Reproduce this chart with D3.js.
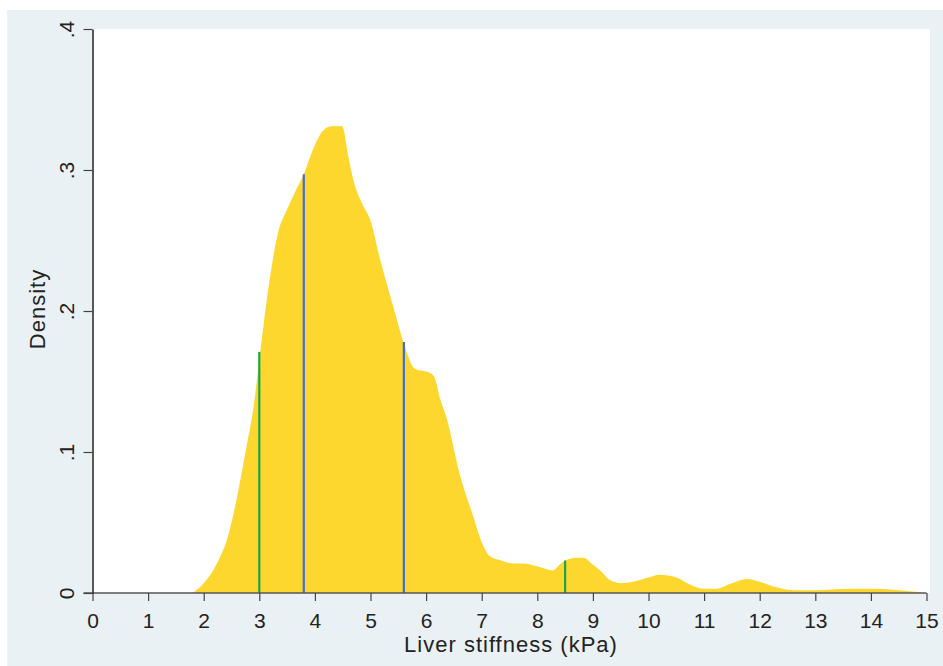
<!DOCTYPE html>
<html><head><meta charset="utf-8">
<script src="https://cdn.jsdelivr.net/npm/d3@7"></script>
<style>html,body{margin:0;padding:0;background:#fff;}svg{display:block;}</style>
</head><body>
<svg id="chart" width="943" height="666"></svg>
<script>
// Kernel density estimate of liver stiffness
const densX = [1.8,1.9,2.0,2.17,2.3,2.42,2.6,2.78,2.89,3.0,3.16,3.34,3.5,3.65,3.8,3.95,4.05,4.15,4.3,4.49,4.6,4.69,4.85,5.0,5.17,5.41,5.6,5.8,6.07,6.15,6.25,6.37,6.6,6.85,7.0,7.15,7.35,7.56,7.74,8.0,8.28,8.4,8.5,8.71,8.83,9.0,9.13,9.31,9.5,9.73,10.0,10.2,10.5,10.8,11.0,11.2,11.5,11.77,12.0,12.3,12.6,13.0,13.6,14.1,14.5,14.9];
const densY = [0,0.003,0.007,0.016,0.026,0.038,0.068,0.106,0.13,0.165,0.215,0.256,0.272,0.285,0.297,0.313,0.322,0.328,0.331,0.331,0.31,0.293,0.276,0.264,0.237,0.203,0.177,0.159,0.156,0.153,0.138,0.124,0.085,0.054,0.036,0.026,0.023,0.021,0.021,0.019,0.016,0.02,0.023,0.025,0.025,0.02,0.016,0.009,0.007,0.008,0.011,0.013,0.011,0.005,0.003,0.003,0.007,0.01,0.008,0.004,0.002,0.002,0.003,0.003,0.002,0.0005];
// Reference lines: percentiles (green: outer, blue: inner)
const greenX = [3.0, 8.5];
const greenTop = [0.171, 0.023];
const blueX = [3.8, 5.6];
const blueTop = [0.297, 0.178];
const xTicks = d3.range(0, 16);
const yTicks = [0, 0.1, 0.2, 0.3, 0.4];
const yTickLabels = ["0", ".1", ".2", ".3", ".4"];

const svg = d3.select("#chart");
const W = 943, H = 666;
const mLeft = 92.5, mRight = 926.5, mTop = 29, mBottom = 593;
const FONT = "Liberation Sans, Arial, sans-serif";

// outer panel
svg.append("rect").attr("x", 7).attr("y", 10).attr("width", W - 7).attr("height", H - 10).attr("fill", "#eaf1f5");
// plot region
svg.append("rect").attr("x", mLeft).attr("y", mTop).attr("width", 930 - mLeft).attr("height", mBottom - mTop).attr("fill", "#ffffff");

const x = d3.scaleLinear().domain([0, 15]).range([mLeft, mRight]);
const y = d3.scaleLinear().domain([0, 0.4]).range([mBottom, mTop]);

const pts = densX.map((d, i) => [d, densY[i]]);
const area = d3.area().x(d => x(d[0])).y0(y(0)).y1(d => y(d[1])).curve(d3.curveMonotoneX);
svg.append("path").datum(pts).attr("d", area).attr("fill", "#fdd62e");

svg.selectAll("line.g").data(greenX).join("line").attr("class", "g")
  .attr("x1", d => x(d)).attr("x2", d => x(d))
  .attr("y1", y(0)).attr("y2", (d, i) => y(greenTop[i]))
  .attr("stroke", "#1aa64a").attr("stroke-width", 2.2);
svg.selectAll("line.b").data(blueX).join("line").attr("class", "b")
  .attr("x1", d => x(d)).attr("x2", d => x(d))
  .attr("y1", y(0)).attr("y2", (d, i) => y(blueTop[i]))
  .attr("stroke", "#3d6fd6").attr("stroke-width", 2.2);

// X axis
const xAxis = d3.axisBottom(x).tickValues(xTicks).tickSize(8).tickSizeOuter(0).tickFormat(d3.format("d"));
const gx = svg.append("g").attr("transform", `translate(0,${mBottom})`).call(xAxis);
gx.select(".domain").attr("stroke", "#555").attr("stroke-width", 1.5).attr("d", `M${mLeft - 9},0H${mRight}`);
gx.selectAll(".tick line").attr("stroke", "#444").attr("stroke-width", 1.2);
gx.selectAll(".tick text").attr("font-family", FONT).attr("font-size", 21).attr("fill", "#222")
  .attr("dy", null).attr("y", 35);

// Y axis
const yAxis = d3.axisLeft(y).tickValues(yTicks).tickSize(9).tickSizeOuter(0).tickFormat((d, i) => yTickLabels[i]);
const gy = svg.append("g").attr("transform", `translate(${mLeft},0)`).call(yAxis);
gy.select(".domain").attr("stroke", "#222").attr("stroke-width", 1.5);
gy.selectAll(".tick line").attr("stroke", "#444").attr("stroke-width", 1.2);
gy.selectAll(".tick text")
  .attr("font-family", FONT).attr("font-size", 21).attr("fill", "#222")
  .attr("x", null).attr("dy", null)
  .attr("text-anchor", "middle")
  .attr("transform", "translate(-18.5,0) rotate(-90)")
  .attr("y", 0);

// Axis titles
svg.append("text").attr("x", 511).attr("y", 652)
  .attr("text-anchor", "middle").attr("font-family", FONT)
  .attr("font-size", 22).attr("letter-spacing", 1).attr("fill", "#222").text("Liver stiffness (kPa)");
svg.append("text").attr("transform", `translate(45,309) rotate(-90)`)
  .attr("text-anchor", "middle").attr("font-family", FONT)
  .attr("font-size", 22).attr("letter-spacing", 1).attr("fill", "#222").text("Density");
</script>
</body></html>
